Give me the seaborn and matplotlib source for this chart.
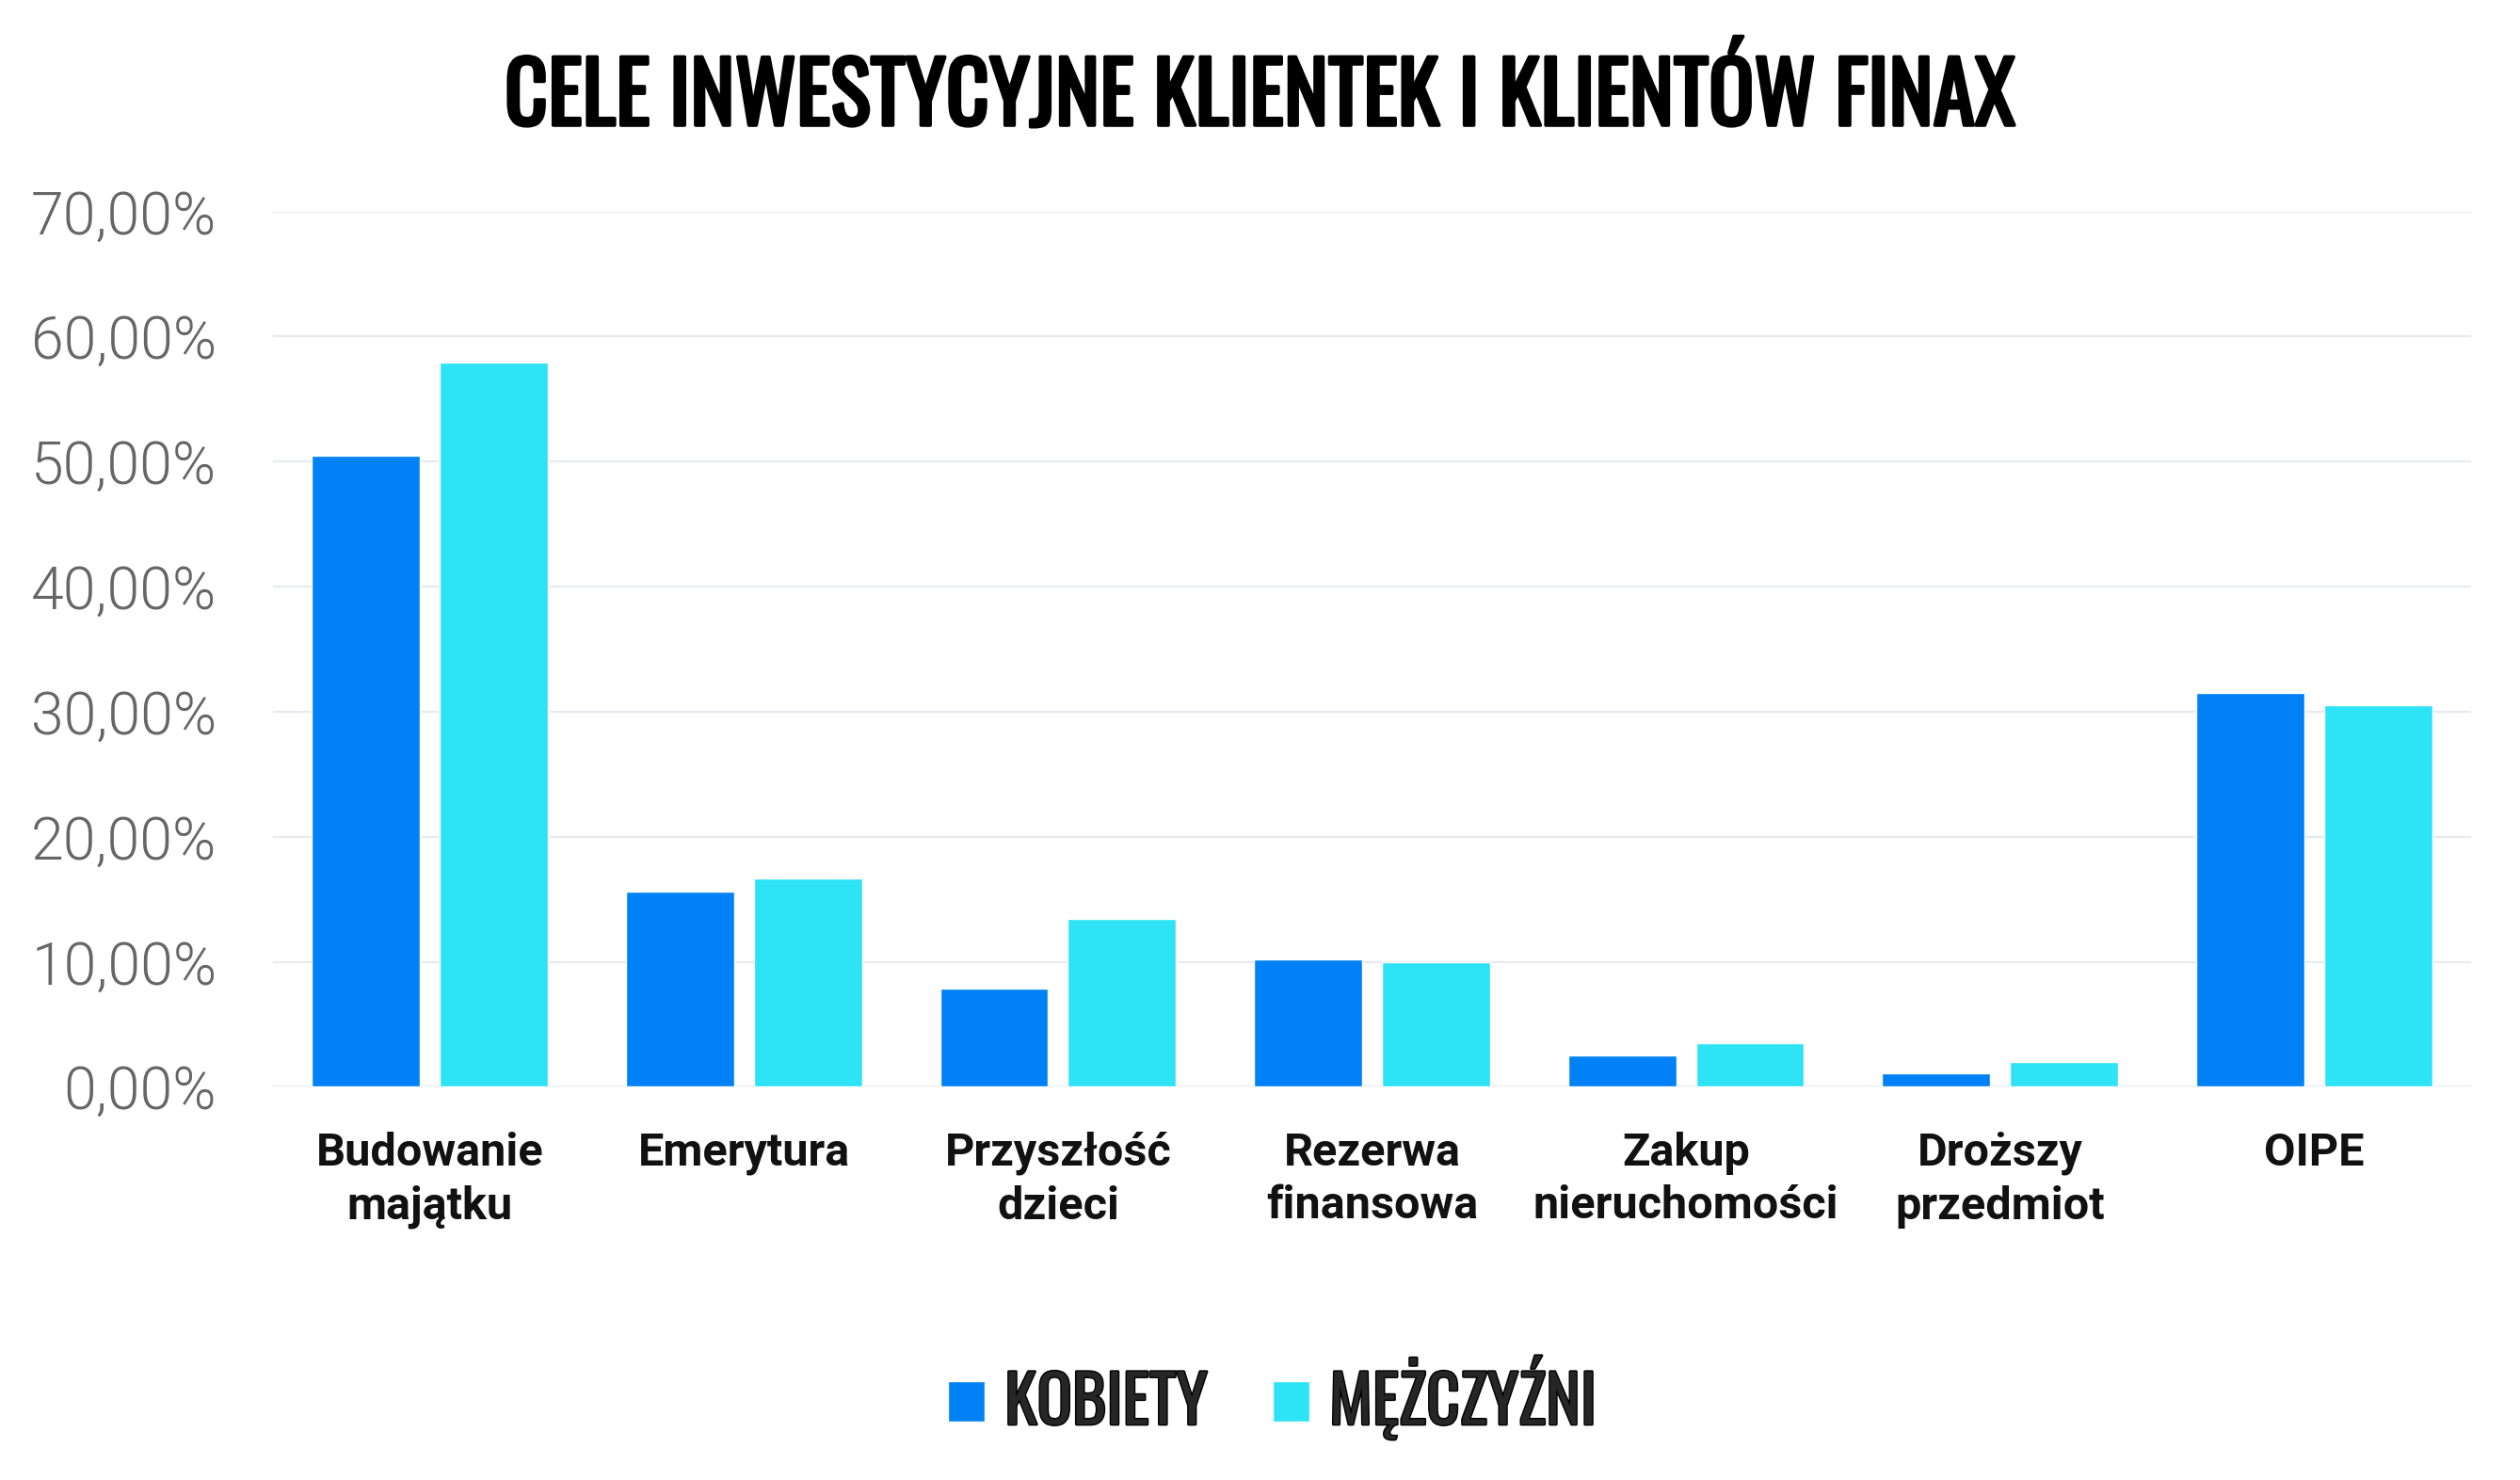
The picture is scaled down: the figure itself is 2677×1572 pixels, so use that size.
import matplotlib
matplotlib.use("Agg")
import matplotlib.pyplot as plt
import matplotlib.patheffects as pe
import pandas as pd
import seaborn as sns
from matplotlib import font_manager
from matplotlib.font_manager import FontProperties
from matplotlib.ticker import FuncFormatter, MultipleLocator


categories = [
    "Budowanie\nmajątku",
    "Emerytura",
    "Przyszłość\ndzieci",
    "Rezerwa\nfinansowa",
    "Zakup\nnieruchomości",
    "Droższy\nprzedmiot",
    "OIPE",
]
kobiety = [50.5, 15.6, 7.9, 10.2, 2.5, 1.1, 31.5]
mezczyzni = [57.9, 16.7, 13.4, 10.0, 3.5, 2.0, 30.5]
series_names = ["KOBIETY", "MĘŻCZYŹNI"]
colors = ["#0082F6", "#2EE3F6"]

title_text = "CELE INWESTYCYJNE KLIENTEK I KLIENTÓW FINAX"


def heading_font():
    """Return (font file, needs_fake_bold) for the condensed heading font."""
    oswald = [f for f in font_manager.fontManager.ttflist if f.name == "Oswald"]
    if oswald:
        best = max(oswald, key=lambda f: f.weight if isinstance(f.weight, int) else 400)
        w = best.weight if isinstance(best.weight, int) else 400
        is_var = "[" in best.fname or "wght" in best.fname.lower()
        return best.fname, (w < 600 or is_var)
    return None, True


def main():
    df = pd.DataFrame({
        "cel": categories * 2,
        "wartosc": kobiety + mezczyzni,
        "plec": [series_names[0]] * len(categories) + [series_names[1]] * len(categories),
    })

    sns.set_theme(style="white")
    plt.rcParams["font.family"] = ["Roboto", "DejaVu Sans"]
    fname, fake_bold = heading_font()

    fig = plt.figure(figsize=(26.77, 15.72), dpi=100)
    ax = fig.add_axes([0.1083, 0.2656, 0.9806 - 0.1083, 0.8571 - 0.2656])

    sns.barplot(data=df, x="cel", y="wartosc", hue="plec", palette=colors,
                width=0.814, gap=0.154, saturation=1, ax=ax)

    ax.set_ylim(0, 70)
    ax.set_xlim(-0.5, len(categories) - 0.5)
    ax.yaxis.set_major_locator(MultipleLocator(10))
    ax.yaxis.set_major_formatter(FuncFormatter(lambda v, p: f"{v:.2f}".replace(".", ",") + "%"))
    ax.set_axisbelow(True)
    ax.grid(axis="y", color="#E8EAF0", linewidth=1.6)
    ax.grid(axis="x", visible=False)
    for s in ax.spines.values():
        s.set_visible(False)
    ax.set_xlabel("")
    ax.set_ylabel("")
    ax.tick_params(axis="y", length=0, pad=43, labelsize=45, labelcolor="#666666")
    ax.tick_params(axis="x", length=0, pad=34, labelsize=35, labelcolor="#111111")
    for lab in ax.get_yticklabels():
        lab.set_fontweight(300)
    for lab in ax.get_xticklabels():
        lab.set_fontweight("bold")
        lab.set_multialignment("center")
        lab.set_linespacing(1.3)
        lab.set_verticalalignment("top")

    if fname:
        title_fp = FontProperties(fname=fname, size=64.5)
        legend_fp = FontProperties(fname=fname, size=50)
    else:
        title_fp = FontProperties(family="DejaVu Sans", stretch="condensed", weight="bold", size=50)
        legend_fp = FontProperties(family="DejaVu Sans", stretch="condensed", weight="bold", size=38)

    handles, labels = ax.get_legend_handles_labels()
    ax.get_legend().remove()
    leg = fig.legend(handles, labels, loc="center", bbox_to_anchor=(0.505, 0.056),
                     ncol=2, frameon=False, handlelength=0.56, handleheight=0.56,
                     handletextpad=0.3, columnspacing=1.0, prop=legend_fp)

    title = fig.text(0.5, 0.9154, title_text, ha="center", va="baseline",
                     fontproperties=title_fp, color="#000000")

    if fake_bold:
        title.set_path_effects([pe.withStroke(linewidth=2.6, foreground="#000000")])
        for t in leg.get_texts():
            t.set_path_effects([pe.withStroke(linewidth=2.0, foreground="#000000")])

    fig.savefig("out.png", dpi=100, facecolor="white")


if __name__ == "__main__":
    main()
